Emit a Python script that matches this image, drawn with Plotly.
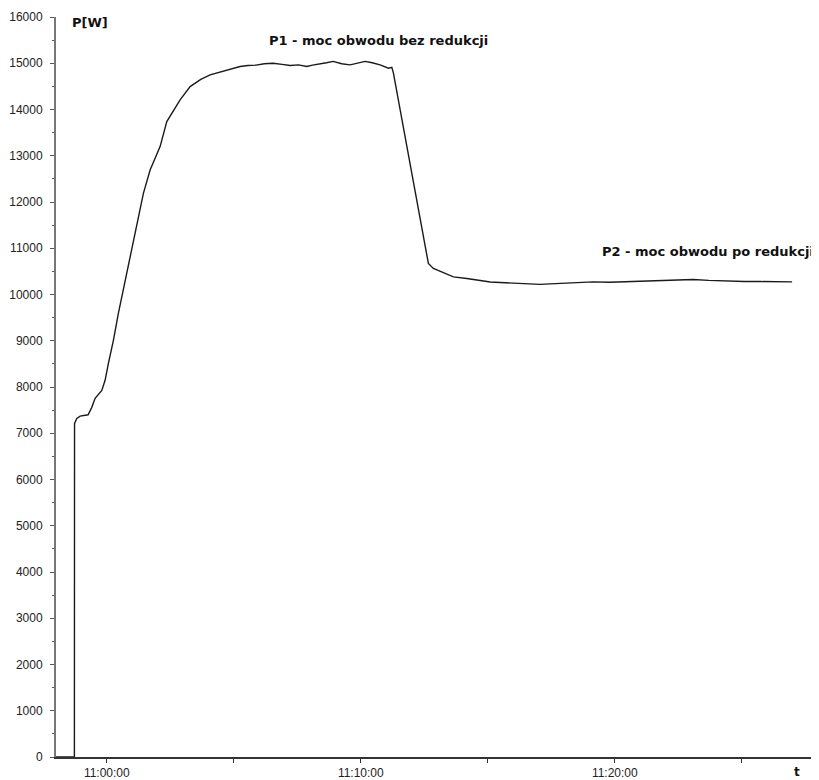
import plotly.graph_objects as go

# time in minutes relative to 11:00:00
t_min = [-2.0, -1.276, -1.27, -1.181, -1.05, -0.921, -0.736, -0.591, -0.461, -0.197,
         -0.067, 0.063, 0.26, 0.457, 0.591, 0.72, 1.047, 1.441, 1.705, 2.098,
         2.362, 2.886, 3.28, 3.7, 4.067, 4.4, 4.724, 5.0, 5.248, 5.55, 5.878,
         6.2, 6.547, 6.9, 7.217, 7.55, 7.874, 8.1, 8.398, 8.65, 8.909, 9.25,
         9.579, 9.85, 10.169, 10.45, 10.76, 11.087, 11.22, 11.283, 12.661,
         12.858, 13.189, 13.646, 14.173, 14.697, 15.1, 15.484, 15.9, 16.272,
         16.65, 17.059, 17.45, 17.846, 18.5, 19.146, 19.8, 20.484, 21.1,
         21.783, 22.4, 23.083, 23.7, 24.421, 25.1, 25.72, 26.35, 26.98]
power_w = [0, 0, 7212, 7320, 7370, 7386, 7400, 7560, 7754, 7927,
           8144, 8512, 9010, 9595, 9950, 10310, 11176, 12188, 12692, 13197,
           13738, 14208, 14496, 14650, 14750, 14800, 14858, 14900, 14930, 14950, 14960,
           14990, 15000, 14975, 14950, 14965, 14930, 14960, 14980, 15010, 15040, 14990,
           14966, 15000, 15040, 15010, 14966, 14893, 14910, 14793, 10671,
           10563, 10490, 10382, 10346, 10300, 10270, 10260, 10250, 10240,
           10225, 10220, 10230, 10238, 10255, 10274, 10265, 10280, 10290,
           10296, 10310, 10325, 10305, 10290, 10280, 10280, 10270, 10274]

x_tickvals = [0, 5, 10, 15, 20, 25]
x_ticktext = ["11:00:00", "", "11:10:00", "", "11:20:00", ""]
y_tickvals = list(range(0, 16001, 1000))
y_ticktext = [str(v) for v in y_tickvals]

fig = go.Figure()
fig.add_trace(go.Scatter(x=t_min, y=power_w, mode="lines",
                         line=dict(color="#1a1a1a", width=1.4),
                         showlegend=False, hoverinfo="skip"))

tick_font = "Liberation Sans, Arial, sans-serif"
label_font = "DejaVu Sans, Verdana, sans-serif"

# the page adds an 8px body margin; figure is sized to fill the rest of the window
fig.update_layout(
    width=811, height=772,
    margin=dict(l=48, r=0, t=9, b=16),
    paper_bgcolor="white", plot_bgcolor="white",
    font=dict(family=tick_font, size=12, color="#222"),
    xaxis=dict(range=[-2.0, 28.04], showgrid=False, zeroline=False,
               showline=True, linecolor="#333", linewidth=1.5,
               tickmode="array", tickvals=x_tickvals, ticktext=x_ticktext,
               ticks="outside", ticklen=4, tickcolor="#333",
               tickfont=dict(size=12, color="#222")),
    yaxis=dict(range=[0, 16000], showgrid=False, zeroline=False,
               showline=True, linecolor="#777", linewidth=2,
               tickmode="array", tickvals=y_tickvals, ticktext=y_ticktext,
               ticks="outside", ticklen=4, tickcolor="#555",
               ticklabelstandoff=5,
               tickfont=dict(size=12, color="#222"),
               minor=dict(dtick=500, tick0=0, ticks="outside", ticklen=2, tickcolor="#555")),
)

annots = [
    dict(x=-1.445, y=15876, text="P[W]"),
    dict(x=6.31, y=15493, text="P1 - moc obwodu bez redukcji"),
    dict(x=19.42, y=10922, text="P2 - moc obwodu po redukcji"),
]
for a in annots:
    fig.add_annotation(x=a["x"], y=a["y"], text="<b>" + a["text"] + "</b>",
                       xref="x", yref="y", showarrow=False,
                       xanchor="left", yanchor="middle",
                       font=dict(family=label_font, size=13, color="#111"))

# axis name "t" sits below the time axis, outside the plotting area
fig.add_annotation(x=0.9646, y=-0.0075, text="<b>t</b>",
                   xref="paper", yref="paper", showarrow=False,
                   xanchor="left", yanchor="top",
                   font=dict(family=label_font, size=12, color="#111"))

fig.write_html("out.html")
